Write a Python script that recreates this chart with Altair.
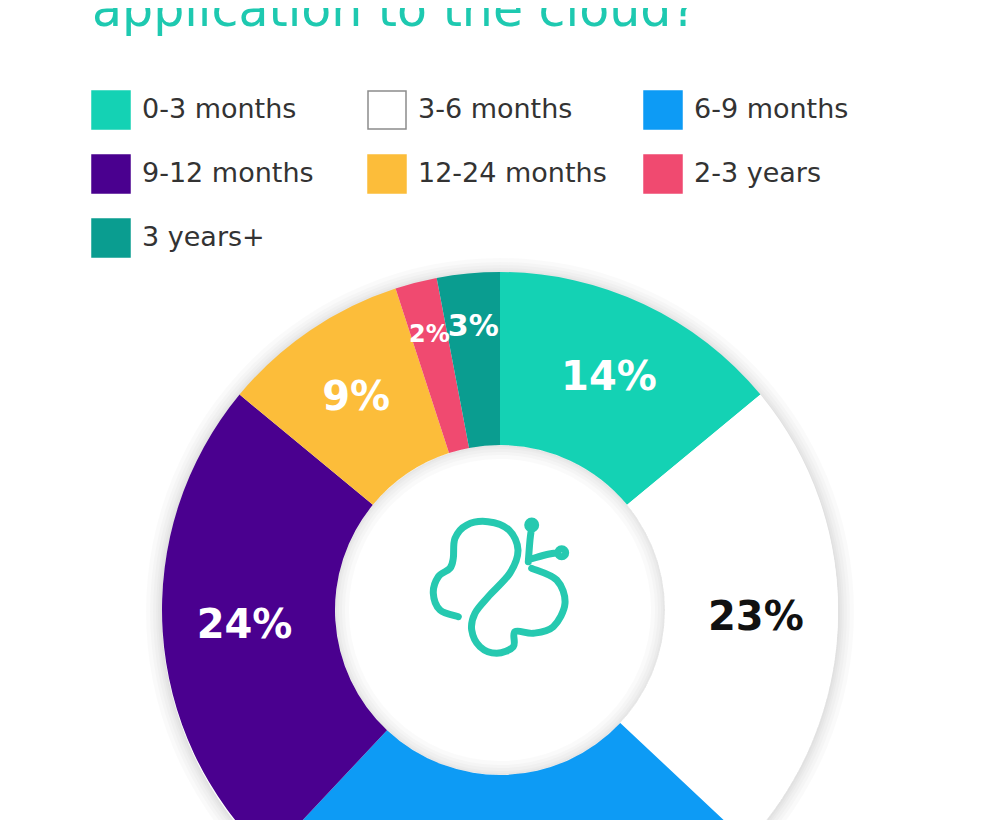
import math
import altair as alt
import pandas as pd

# ---- data ----
categories = ["0-3 months", "3-6 months", "6-9 months", "9-12 months",
              "12-24 months", "2-3 years", "3 years+"]
values = [14, 23, 25, 24, 9, 2, 3]
labels = ["14%", "23%", "25%", "24%", "9%", "2%", "3%"]
colors = ["#14d2b4", "#ffffff", "#0d9bf5", "#4a008f", "#fcbd3a", "#f04a70", "#0a9d90"]
strokes = ["#14d2b4", "#8c8c8c", "#0d9bf5", "#4a008f", "#fcbd3a", "#f04a70", "#0a9d90"]
title_text = "application to the cloud?"

df = pd.DataFrame({"cat": categories, "value": values, "label": labels,
                   "idx": list(range(len(categories)))})
one = pd.DataFrame({"k": [0]})

# ---- layout / style ----
CX, CY = 492, 602
R_OUT, R_IN = 338, 165
TEAL = "#1ec9b0"

theta_scale = alt.Scale(domain=[0, sum(values)], range=[0, 2 * math.pi])

legend = alt.Legend(
    orient="none", legendX=83, legendY=82, columns=3, title=None, direction="horizontal",
    symbolType="square", symbolSize=1444, symbolStrokeWidth=1.5,
    labelFontSize=27, labelFont="DejaVu Sans", labelColor="#333333",
    labelOffset=11, columnPadding=34, rowPadding=20, gridAlign="all",
    padding=0, labelLimit=400,
)

base = alt.Chart(df).transform_window(
    cum="sum(value)", sort=[alt.SortField("idx")], frame=[None, 0]
).transform_calculate(
    start="datum.cum - datum.value",
    mid="datum.cum - datum.value / 2",
)

arcs = base.mark_arc(radius=R_OUT, radius2=R_IN, strokeWidth=0).encode(
    x=alt.value(CX), y=alt.value(CY),
    theta=alt.Theta("start:Q", scale=theta_scale, stack=None),
    theta2="cum:Q",
    color=alt.Color("cat:N", scale=alt.Scale(domain=categories, range=colors), legend=legend),
    stroke=alt.Stroke("cat:N", scale=alt.Scale(domain=categories, range=strokes), legend=legend),
)

pct = base.transform_calculate(
    lr="datum.value < 5 ? 284 : 256",
    fs="datum.value < 3 ? 24 : (datum.value < 5 ? 30 : 40)",
).mark_text(font="DejaVu Sans", fontWeight="bold", align="center", baseline="middle").encode(
    x=alt.value(CX), y=alt.value(CY),
    theta=alt.Theta("mid:Q", scale=theta_scale, stack=None),
    radius=alt.Radius("lr:Q", scale=None),
    text="label:N",
    size=alt.Size("fs:Q", scale=None),
    color=alt.condition("datum.cat == '3-6 months'", alt.value("#111111"), alt.value("#ffffff")),
)

# soft shadows around the ring and inside the hole
outer_sh = [
    alt.Chart(one).mark_arc(theta=0, theta2=2 * math.pi, radius=R_OUT + s, radius2=R_OUT,
                            color="#000000", opacity=0.018).encode(x=alt.value(CX), y=alt.value(CY + 2))
    for s in [2, 4, 6, 9, 12, 16]
]
inner_sh = [
    alt.Chart(one).mark_arc(theta=0, theta2=2 * math.pi, radius=R_IN, radius2=R_IN - s,
                            color="#000000", opacity=0.018).encode(x=alt.value(CX), y=alt.value(CY))
    for s in [2, 4, 7, 10, 14]
]

# ---- butterfly logo (style shape) ----
ICX, ICY, IH = 501, 585, 70
wing = [(531.7, 568.3), (556.7, 580), (565, 603.3), (553.3, 626.7), (533.3, 633.3),
        (515, 631.7), (513.3, 646.7), (496.7, 653.3), (480, 646.7), (471.7, 630),
        (475, 613.3), (488, 597), (510, 573), (518, 550), (509, 530),
        (488, 521.7), (466.7, 525), (455, 538.3), (453.3, 558), (450, 568.3),
        (438.3, 576.7), (433.3, 593.3), (440, 610), (458.3, 616.7)]
stem1 = [(528.3, 561.7), (530, 540), (531.7, 527)]
stem2 = [(531, 559), (545, 555), (558, 552.7)]
dots = [(531.7, 525), (561.7, 552.7)]


def norm(p):
    return ((p[0] - ICX) / IH, (p[1] - ICY) / IH)


def cr_path(pts):
    pts = [norm(p) for p in pts]
    d = f"M{pts[0][0]:.4f},{pts[0][1]:.4f}"
    n = len(pts)
    for i in range(n - 1):
        p0 = pts[i - 1] if i > 0 else pts[i]
        p1, p2 = pts[i], pts[i + 1]
        p3 = pts[i + 2] if i + 2 < n else pts[i + 1]
        c1 = (p1[0] + (p2[0] - p0[0]) / 6, p1[1] + (p2[1] - p0[1]) / 6)
        c2 = (p2[0] - (p3[0] - p1[0]) / 6, p2[1] - (p3[1] - p1[1]) / 6)
        d += f"C{c1[0]:.4f},{c1[1]:.4f},{c2[0]:.4f},{c2[1]:.4f},{p2[0]:.4f},{p2[1]:.4f}"
    return d


def circle(p, r):
    cx, cy = norm(p)
    r = r / IH
    k = 0.5523 * r
    return (f"M{cx + r:.4f},{cy:.4f}"
            f"C{cx + r:.4f},{cy + k:.4f},{cx + k:.4f},{cy + r:.4f},{cx:.4f},{cy + r:.4f}"
            f"C{cx - k:.4f},{cy + r:.4f},{cx - r:.4f},{cy + k:.4f},{cx - r:.4f},{cy:.4f}"
            f"C{cx - r:.4f},{cy - k:.4f},{cx - k:.4f},{cy - r:.4f},{cx:.4f},{cy - r:.4f}"
            f"C{cx + k:.4f},{cy - r:.4f},{cx + r:.4f},{cy - k:.4f},{cx + r:.4f},{cy:.4f}Z")


icon_path = cr_path(wing) + cr_path(stem1) + cr_path(stem2) + "".join(circle(p, 4) for p in dots)

icon = alt.Chart(one).mark_point(
    shape=icon_path, filled=False, stroke="#26c9b0", strokeWidth=7, size=(2 * IH) ** 2,
    strokeCap="round", strokeJoin="round", opacity=1,
).encode(x=alt.value(ICX - 8), y=alt.value(ICY - 8))

title = alt.Chart(pd.DataFrame({"t": [title_text]})).mark_text(
    font="DejaVu Sans", fontSize=49, color=TEAL, align="left", baseline="alphabetic",
).encode(x=alt.value(84), y=alt.value(18), text="t:N")

chart = alt.layer(*outer_sh, arcs, *inner_sh, icon, pct, title).properties(
    width=978, height=812, autosize=alt.AutoSizeParams(type="none"), padding=0,
    background="#ffffff",
).configure_view(stroke=None)

chart.save("out.html", embed_options={"renderer": "svg", "actions": False})
